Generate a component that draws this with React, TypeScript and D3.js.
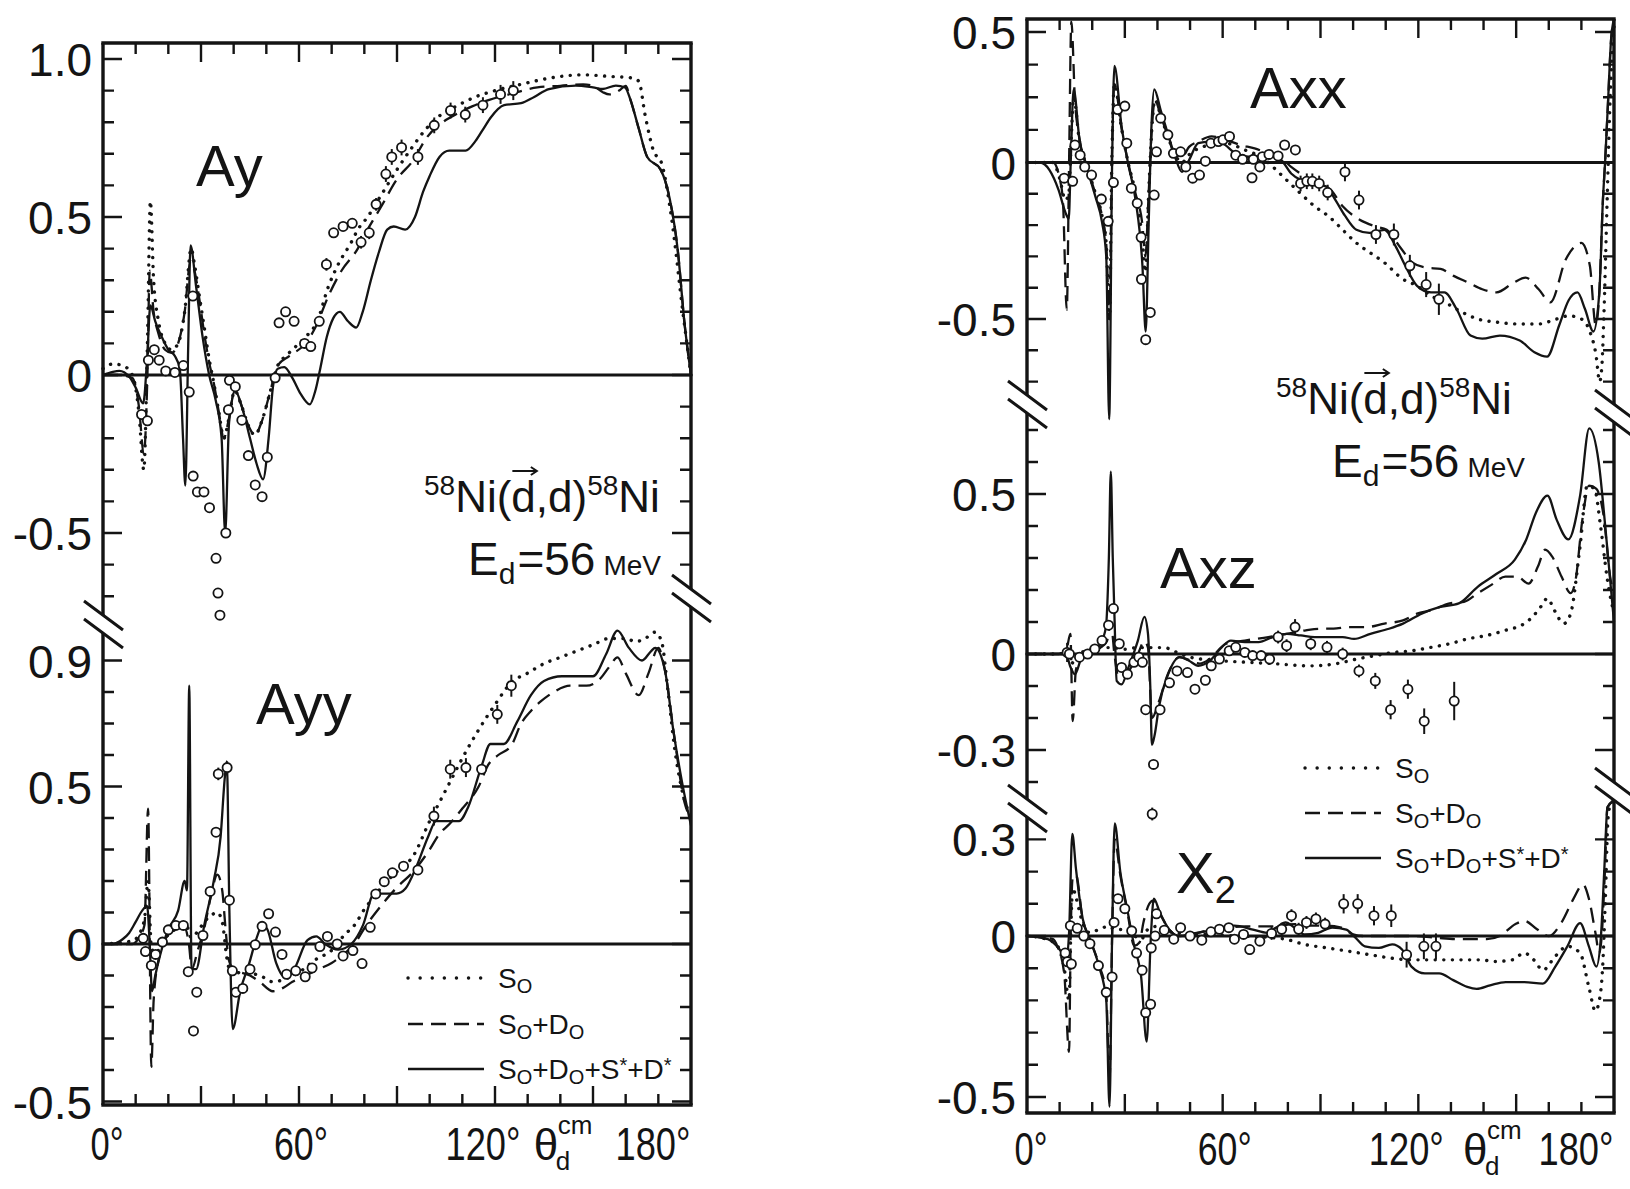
import React, { useLayoutEffect, useRef, useState } from 'react';
import * as d3 from 'd3';

type Pt = [number, number];
type Obs = [number, number, number];

// ---------------- Ay (left, upper) ----------------
const aySolid: Pt[] = [[0,0],[3,0.01],[5,0.013],[8,-0.005],[10,-0.04],[12.3,-0.09],[13.5,0.05],[14.5,0.22],[16,0.17],[18,0.12],[20,0.08],[22,0.06],[23.5,0.02],[24.5,-0.2],[25.2,-0.35],[26.1,0.1],[26.8,0.41],[28.5,0.28],[30.5,0.12],[32.5,0.0],[34.5,-0.08],[36.3,-0.2],[37.4,-0.5],[38.6,-0.15],[40.5,-0.05],[42.5,-0.1],[45,-0.2],[47,-0.28],[49,-0.33],[50.7,-0.2],[52,-0.04],[53.5,0.02],[55.5,0.025],[58,-0.01],[60.5,-0.06],[63.3,-0.093],[65,-0.05],[66.5,0.02],[68.5,0.12],[70.5,0.18],[72.5,0.2],[75,0.17],[77.5,0.15],[79.5,0.2],[82,0.3],[84.5,0.39],[87,0.46],[89,0.47],[92.5,0.46],[95.5,0.5],[98,0.58],[100,0.63],[103,0.69],[106,0.71],[111,0.71],[114,0.74],[116.5,0.78],[118.7,0.815],[122.8,0.854],[128,0.86],[132,0.88],[136.5,0.905],[144.7,0.916],[150,0.91],[153,0.905],[157,0.916],[159.8,0.91],[161.5,0.87],[164,0.78],[166.6,0.69],[170.7,0.65],[173.5,0.557],[176,0.39],[178,0.165],[180,0]];
const ayDashed: Pt[] = [[0,0],[5,0],[9,-0.01],[11,-0.1],[12.5,-0.25],[13.6,0.0],[14.3,0.33],[15.5,0.2],[17,0.13],[19,0.08],[21,0.07],[23,0.1],[25,0.2],[26.8,0.36],[28,0.33],[29.5,0.24],[31,0.13],[32.5,0.04],[34,-0.03],[35.5,-0.12],[37,-0.2],[38.5,-0.14],[40.3,-0.05],[42.5,-0.1],[44.5,-0.16],[46.5,-0.19],[48.5,-0.15],[51,-0.06],[53.5,0.03],[57,0.06],[62,0.1],[65,0.15],[69,0.25],[73,0.33],[78,0.4],[81,0.46],[85,0.53],[90,0.62],[95,0.68],[99,0.75],[104,0.8],[109,0.83],[113,0.85],[118,0.87],[125,0.89],[133,0.91],[140,0.915],[147,0.92],[150,0.915],[153,0.895],[155,0.888],[158,0.9],[160,0.915],[161.5,0.87],[164,0.78],[166.6,0.69],[170.7,0.65],[173.5,0.557],[176,0.39],[178,0.165],[180,0]];
const ayDotted: Pt[] = [[0,0.02],[3,0.035],[6,0.03],[9,0.0],[11,-0.12],[12.5,-0.3],[13.6,0.1],[14.5,0.55],[15.5,0.3],[17,0.17],[19,0.1],[21,0.08],[23,0.1],[25,0.2],[27,0.4],[28,0.35],[29.5,0.25],[31,0.15],[32.5,0.05],[34,-0.03],[35.5,-0.12],[37,-0.2],[38.5,-0.14],[40.3,-0.05],[42.5,-0.1],[44.5,-0.16],[46.5,-0.19],[48.5,-0.15],[51,-0.06],[53.5,0.03],[56,0.06],[59,0.09],[62,0.12],[65.6,0.17],[69,0.28],[72,0.35],[76,0.42],[78,0.46],[81,0.5],[84.6,0.56],[90,0.65],[94.6,0.72],[99,0.78],[103,0.82],[108,0.85],[114,0.88],[120,0.9],[128,0.92],[137,0.94],[147,0.95],[155,0.945],[162,0.94],[164,0.93],[166,0.82],[168.5,0.71],[171,0.67],[174,0.5],[177.5,0.2],[180,0]];
const ayPoints: Obs[] = [[11.8,-0.125,0],[13.6,-0.145,0],[13.9,0.047,0],[15.7,0.08,0],[17.2,0.047,0],[19.2,0.013,0],[22,0.008,0],[24.6,0.03,0],[26.4,-0.054,0],[27.5,0.25,0],[27.6,-0.32,0],[28.9,-0.37,0],[30.9,-0.37,0],[32.6,-0.42,0],[34.6,-0.58,0],[35.2,-0.69,0],[35.8,-0.76,0],[37.6,-0.5,0],[38.4,-0.11,0],[38.7,-0.017,0],[40.5,-0.037,0],[42.5,-0.143,0],[44.5,-0.255,0],[46.6,-0.348,0],[48.7,-0.385,0],[50.3,-0.26,0],[52.7,-0.009,0],[53.9,0.165,0],[55.9,0.2,0],[58.5,0.17,0],[61.7,0.1,0],[63.6,0.09,0],[66.2,0.17,0.015],[68.4,0.35,0.02],[70.6,0.45,0],[73.5,0.47,0],[76.3,0.48,0],[79,0.42,0.02],[81.5,0.45,0.02],[83.6,0.54,0.02],[86.6,0.636,0.025],[88.4,0.69,0.025],[91.4,0.72,0.025],[96.4,0.69,0.025],[101.4,0.79,0.025],[106.4,0.837,0.025],[110.9,0.824,0.025],[116.3,0.854,0.025],[121.7,0.888,0.03],[125.6,0.9,0.03]];

// ---------------- Ayy (left, lower) ----------------
const ayySolid: Pt[] = [[0,0],[3,0],[6,0.015],[8,0.035],[10,0.07],[12,0.106],[13.5,0.12],[14.3,0.0],[15,-0.15],[16,-0.1],[17.5,-0.035],[20,0.047],[23,0.106],[25,0.2],[25.7,0.17],[26.4,0.82],[27.1,-0.08],[28.5,-0.08],[31,0.06],[33.9,0.2],[36,0.34],[37.3,0.53],[37.9,0.58],[38.7,0.1],[39.7,-0.27],[42,-0.15],[44.8,-0.06],[46.8,0.012],[48.9,0.06],[50.3,0.047],[53,-0.06],[55.7,-0.106],[58.5,-0.08],[62.6,0.012],[65.3,0.024],[68,0],[72,-0.018],[76,0],[79.6,0.06],[83,0.16],[85.8,0.16],[89.9,0.16],[92.6,0.176],[96,0.247],[99.5,0.34],[102,0.39],[106.3,0.39],[109,0.39],[111.8,0.435],[115.9,0.565],[118.6,0.635],[122.7,0.635],[126.8,0.706],[131,0.79],[135,0.835],[140.5,0.85],[150,0.85],[154,0.92],[157.5,0.995],[161,0.94],[165,0.9],[167.8,0.93],[169,0.94],[172,0.87],[174.7,0.67],[177.4,0.506],[180,0.376]];
const ayyDashed: Pt[] = [[0,0],[9,0],[11,0.02],[12.7,0.06],[13.8,0.43],[14.8,-0.39],[15.5,-0.18],[17,-0.05],[20,0.03],[23,0.05],[25,0.05],[26.3,0.0],[27.2,-0.08],[29,-0.02],[31,0.05],[33,0.15],[35,0.22],[36.5,0.17],[37.5,0.05],[38.5,-0.05],[40,-0.08],[45,-0.1],[48,-0.12],[52,-0.15],[55,-0.14],[58,-0.12],[62,-0.1],[66,-0.08],[70,-0.06],[74,-0.03],[77,0],[80,0.05],[85,0.12],[90,0.18],[95,0.23],[100,0.3],[103,0.35],[106,0.38],[110,0.43],[115,0.5],[118,0.57],[121,0.6],[125,0.63],[128,0.7],[131,0.74],[134,0.77],[138,0.8],[143,0.82],[148,0.82],[152,0.84],[155,0.88],[157.5,0.91],[160,0.86],[164,0.79],[167,0.86],[170,0.94],[172,0.87],[175,0.65],[178,0.45],[180,0.4]];
const ayyDotted: Pt[] = [[0,0],[9,0.01],[11,0.03],[12.7,0.08],[13.8,0.2],[14.8,-0.01],[16,-0.03],[18,0],[20,0.03],[23,0.05],[25.5,0.06],[27,0.02],[29,0.04],[31,0.07],[33,0.09],[35,0.1],[36.5,0.07],[38,-0.05],[39.5,-0.1],[42,-0.09],[48,-0.1],[52,-0.12],[56,-0.11],[60,-0.09],[65,-0.05],[70,-0.02],[74,0.03],[77,0.06],[80,0.11],[83,0.15],[86,0.19],[90,0.23],[95,0.28],[100,0.39],[103,0.45],[107,0.53],[110,0.59],[115,0.68],[120,0.76],[125,0.83],[130,0.86],[135,0.89],[140,0.91],[145,0.93],[150,0.95],[155,0.97],[160,0.97],[163,0.96],[166,0.97],[169,0.99],[171,0.96],[173,0.8],[175,0.62],[177,0.5],[180,0.4]];
const ayyPoints: Obs[] = [[12.3,0.018,0],[13,-0.024,0],[14.8,-0.068,0],[16.1,-0.033,0],[18.2,0.006,0],[20,0.045,0],[22.3,0.059,0],[24.6,0.059,0],[26.1,-0.088,0],[27.7,-0.276,0],[28.7,-0.153,0],[30.6,0.027,0],[32.8,0.167,0],[34.6,0.355,0],[35.3,0.54,0.02],[38,0.56,0.02],[38.7,0.139,0],[39.6,-0.085,0],[40.7,-0.153,0],[42.8,-0.141,0],[45,-0.08,0],[46.6,-0.002,0],[48.7,0.056,0],[50.7,0.096,0],[52.8,0.038,0],[54.8,-0.033,0],[56.2,-0.096,0],[59,-0.085,0],[61.9,-0.104,0],[64,-0.076,0],[66.4,-0.008,0],[68.7,0.024,0],[71.7,0,0],[73.5,-0.038,0],[76.5,-0.021,0],[79.3,-0.062,0],[81.8,0.053,0],[83.5,0.159,0],[86.1,0.198,0],[88.6,0.226,0],[92,0.247,0],[96.4,0.235,0],[101.3,0.406,0.03],[106.3,0.555,0.03],[111.1,0.56,0.03],[115.9,0.555,0],[120.7,0.729,0.03],[125,0.82,0.035]];

// ---------------- Axx (right, top) ----------------
const axxSolid: Pt[] = [[0,0],[4,0],[6.9,-0.024],[9.7,-0.088],[11.8,-0.16],[12.8,-0.18],[13.4,0.0],[14.3,0.28],[16.1,0.087],[18.3,-0.014],[21,-0.11],[23,-0.19],[24.3,-0.3],[25.2,-0.82],[26.1,0.0],[26.8,0.37],[29,0.138],[31,-0.003],[33.3,-0.12],[35.4,-0.33],[36.4,-0.54],[37.3,-0.2],[38.2,0.15],[39,0.28],[41,0.2],[43.2,0.11],[45.4,0.022],[47.5,-0.03],[49.7,0.009],[52.5,0.074],[56,0.08],[59.7,0.074],[64,0.035],[68,0.022],[72.5,0.022],[75.4,0.028],[78,0.009],[81,-0.035],[84,-0.056],[88,-0.067],[91.8,-0.077],[94.6,-0.12],[97.5,-0.17],[101,-0.215],[105,-0.225],[109.6,-0.215],[113,-0.267],[116,-0.33],[119.6,-0.394],[123.9,-0.415],[128,-0.415],[131.7,-0.468],[136,-0.553],[139.6,-0.563],[145,-0.553],[151.1,-0.569],[155.6,-0.606],[159.5,-0.62],[163.2,-0.52],[166.1,-0.44],[168.8,-0.415],[171.1,-0.468],[173.7,-0.54],[175.5,-0.415],[176.6,-0.12],[177.3,0.009],[178.2,0.24],[179.1,0.47],[180,0.55]];
const axxDashed: Pt[] = [[0,0],[8,0],[10,-0.05],[11,-0.12],[12.2,-0.47],[12.9,0.0],[13.6,0.54],[14.7,0.24],[16.1,0.09],[18.3,-0.01],[21,-0.1],[23,-0.17],[24.3,-0.26],[25.3,-0.5],[26,0.0],[26.8,0.3],[29,0.13],[31,0.0],[33.3,-0.1],[35.4,-0.2],[36.3,-0.3],[37.3,-0.1],[38.4,0.15],[39.2,0.24],[41,0.18],[43.2,0.1],[45.4,0.03],[47.5,0.02],[49.7,0.06],[52.5,0.08],[56.6,0.1],[61,0.087],[65.4,0.067],[69.8,0.054],[74,0.035],[77.5,0.022],[81,-0.014],[85.4,-0.045],[89.6,-0.067],[93.2,-0.088],[96.8,-0.14],[100.4,-0.172],[104,-0.193],[106.8,-0.204],[110.3,-0.215],[114.6,-0.273],[118.2,-0.32],[122.5,-0.336],[126.8,-0.34],[131,-0.363],[135.4,-0.384],[139.6,-0.405],[144,-0.415],[149.2,-0.384],[152.9,-0.368],[156.9,-0.405],[160.5,-0.447],[165.2,-0.31],[170,-0.257],[172.6,-0.33],[174.4,-0.52],[175.5,-0.415],[176.6,-0.12],[177.3,0.009],[178.2,0.24],[179.1,0.47],[180,0.55]];
const axxDotted: Pt[] = [[0,0],[8,0],[10,-0.05],[11.8,-0.12],[12.8,-0.1],[13.6,0.1],[14.3,0.25],[16.1,0.08],[18.3,-0.01],[21,-0.1],[23,-0.17],[24.3,-0.26],[25.3,-0.5],[26,0.0],[26.8,0.3],[29,0.13],[31,0.0],[33.3,-0.1],[35.4,-0.25],[36.3,-0.35],[37.3,-0.1],[38.4,0.15],[39.2,0.24],[41,0.18],[43.2,0.1],[45.4,0.03],[47.5,0.0],[49.7,0.03],[53.9,0.06],[60.8,0.074],[66.8,0.048],[72.5,0.015],[75.4,-0.014],[79.6,-0.056],[84,-0.1],[88.2,-0.14],[92.5,-0.172],[96.8,-0.215],[101,-0.257],[105.3,-0.289],[109.6,-0.32],[115.3,-0.373],[119.6,-0.394],[123.9,-0.426],[128.2,-0.447],[132.5,-0.473],[138.2,-0.5],[143.9,-0.51],[151.1,-0.516],[156.9,-0.516],[162.4,-0.5],[166.1,-0.49],[170,-0.5],[172.6,-0.54],[174.5,-0.616],[175.6,-0.7],[176.3,-0.648],[176.9,-0.49],[177.9,-0.12],[178.8,0.24],[180,0.52]];
const axxPoints: Obs[] = [[11.4,-0.05,0],[14,-0.06,0],[14.7,0.067,0],[16.3,0.028,0],[17.7,-0.014,0],[19.8,-0.04,0],[22.8,-0.117,0],[24.9,-0.188,0],[26.5,-0.064,0],[27.8,0.203,0],[30,0.216,0],[30.6,0.074,0],[32,-0.082,0],[33.8,-0.13,0],[35,-0.239,0],[35.1,-0.373,0],[36.4,-0.566,0],[37.8,-0.479,0],[39,-0.104,0],[39.7,0.041,0],[41,0.17,0],[43.2,0.106,0],[44.9,0.035,0],[47.1,0.041,0],[48.7,-0.014,0],[50.8,-0.05,0],[52.9,-0.04,0],[54.7,0.005,0],[56.4,0.074,0],[58.7,0.08,0],[60.1,0.087,0],[62.1,0.1,0],[64,0.028,0],[66.1,0.012,0],[69,-0.049,0],[69.4,0.012,0],[71.4,-0.014,0],[72.2,0.022,0],[74.2,0.031,0],[77,0.025,0],[79,0.067,0],[82.3,0.048,0],[83.9,-0.067,0.025],[85.8,-0.06,0.025],[87.5,-0.06,0.025],[89.6,-0.067,0.025],[92.2,-0.096,0.025],[97.5,-0.03,0.03],[101.8,-0.12,0.03],[107,-0.23,0.03],[112.5,-0.23,0.035],[117.4,-0.33,0.035],[122.4,-0.39,0.04],[126.3,-0.437,0.05]];

// ---------------- Axz (right, middle) ----------------
const axzSolid: Pt[] = [[0,0],[9.7,0],[11.8,0.005],[13.3,-0.04],[14.7,-0.063],[16.8,-0.01],[19.7,0.01],[22.5,0.032],[24.2,0.084],[25.1,0.3],[25.7,0.57],[26.3,0.3],[26.8,0.126],[27.5,-0.084],[29,-0.095],[31.1,-0.042],[34,0.042],[36,0.116],[37.1,0.063],[37.8,-0.1],[38.3,-0.284],[39.2,-0.25],[40.4,-0.168],[43.3,-0.063],[46.8,-0.01],[49.7,-0.021],[52.5,-0.037],[56.1,-0.021],[59.7,0.021],[62.5,0.042],[66.8,0.037],[71,0.037],[75.4,0.053],[79.6,0.063],[84,0.058],[88.2,0.053],[93.2,0.053],[96.8,0.053],[100.3,0.047],[105.3,0.063],[111,0.079],[115.3,0.095],[121,0.126],[126.7,0.147],[132.4,0.158],[138.2,0.21],[143.9,0.25],[149.6,0.295],[153.1,0.358],[156,0.44],[159.6,0.495],[162.4,0.42],[166,0.358],[169.6,0.495],[172.4,0.705],[175.3,0.6],[177.4,0.39],[180,0.1]];
const axzDashed: Pt[] = [[0,0],[10,0],[12,0.01],[13.3,0.063],[14,-0.21],[15,-0.05],[17,0.0],[20,0.01],[22.5,0.02],[24.5,0.04],[25.7,0.1],[26.8,0.0],[28,-0.07],[30,-0.07],[32,-0.04],[34,0.0],[36,0.04],[37.1,0.02],[38.3,-0.2],[40.4,-0.15],[43.3,-0.06],[46.8,-0.01],[50,-0.02],[53,-0.03],[56.1,-0.015],[61,0.032],[66.8,0.042],[74,0.053],[79.6,0.063],[85.5,0.074],[90,0.079],[94,0.079],[98.4,0.084],[104,0.084],[109.6,0.095],[115.3,0.105],[119.6,0.126],[124,0.137],[129.6,0.158],[134,0.163],[138.2,0.19],[142.4,0.216],[146.7,0.242],[150.3,0.242],[153.8,0.22],[156.7,0.274],[158.9,0.326],[161,0.305],[163.9,0.242],[166.7,0.19],[168.2,0.23],[170.3,0.42],[172.4,0.526],[174.6,0.516],[176.7,0.44],[179,0.23],[180,0.19]];
const axzDotted: Pt[] = [[0,0],[10,0],[12,0.005],[13.3,-0.02],[14.5,-0.03],[16,0],[18,0.01],[22,0.02],[26,0.02],[30,0.015],[34,0.02],[38,0.02],[42,0.02],[46,0.005],[50,-0.01],[58,-0.02],[66,-0.025],[75.4,-0.03],[86.8,-0.037],[95,-0.03],[101,-0.016],[106.8,-0.005],[112.5,0.005],[118,0.01],[124,0.021],[129.6,0.032],[135,0.047],[141,0.058],[146.7,0.074],[152.5,0.095],[155,0.116],[157.5,0.147],[159.6,0.174],[161.7,0.137],[164.6,0.095],[166.7,0.126],[169.6,0.337],[171.8,0.526],[174,0.516],[176,0.39],[178,0.23],[180,0.126]];
const axzPoints: Obs[] = [[12.3,0.005,0.03],[13,0.0,0],[16.1,-0.01,0],[18.6,0,0],[20.8,0.016,0],[23,0.042,0],[25,0.09,0],[26.5,0.142,0],[28.3,0.032,0],[29,-0.042,0],[30.8,-0.063,0],[32.8,-0.026,0],[34.3,-0.01,0],[35.4,-0.026,0],[36.4,-0.174,0],[38.4,-0.5,0.02],[38.8,-0.345,0],[40.8,-0.174,0],[43.7,-0.09,0],[46,-0.053,0],[49.2,-0.058,0],[51.5,-0.11,0],[54.7,-0.082,0],[56.5,-0.037,0],[59,-0.016,0],[62,0.01,0],[64,0.021,0],[66.8,0.005,0],[69.2,-0.005,0],[71.8,-0.005,0],[74.4,-0.016,0],[77,0.053,0.02],[79.6,0.026,0.02],[82.2,0.084,0.025],[87,0.032,0.02],[92,0.021,0.02],[96.8,0,0.02],[101.8,-0.053,0.02],[106.8,-0.084,0.025],[111.5,-0.174,0.03],[116.8,-0.11,0.03],[121.8,-0.21,0.04],[131,-0.147,0.06]];

// ---------------- X2 (right, bottom) ----------------
const x2Solid: Pt[] = [[0,0],[6.4,-0.01],[10,-0.042],[12.1,-0.074],[12.9,0.01],[13.9,0.317],[15,0.21],[17.1,0.053],[19.3,-0.01],[22.1,-0.095],[24.3,-0.2],[25.3,-0.53],[26.1,0.0],[26.9,0.35],[28.6,0.2],[30.7,0.085],[32.9,-0.032],[35,-0.127],[36.7,-0.328],[37.9,-0.02],[38.9,0.116],[40.7,0.074],[43.6,0.02],[46.4,0],[52,0.01],[57.9,0.02],[63.6,0.032],[69.3,0.02],[73.6,0.01],[76.4,0.026],[79.3,0.042],[82,0.026],[85,0.005],[89.3,0.01],[93.6,0.026],[97.9,0.02],[100.7,-0.005],[103.6,-0.032],[107.9,-0.037],[112,-0.026],[115,-0.042],[117.9,-0.095],[122,-0.116],[126.4,-0.116],[130.7,-0.137],[135,-0.158],[137.9,-0.164],[142,-0.153],[146.8,-0.143],[152.5,-0.143],[158.2,-0.148],[162,-0.095],[165.7,-0.032],[169.6,0.04],[172.3,-0.032],[174.6,-0.095],[176,0.0],[177,0.2],[178,0.4],[180,0.42]];
const x2Dashed: Pt[] = [[0,0],[8,-0.01],[9.3,-0.032],[11.4,-0.116],[12.9,-0.36],[13.4,0.0],[14,0.18],[15,0.19],[17.1,0.05],[19.3,-0.01],[22.1,-0.09],[24.3,-0.18],[25.3,-0.45],[26.1,0.0],[26.9,0.3],[28.6,0.19],[30.7,0.08],[32.9,-0.03],[34.5,-0.02],[35.7,0.042],[37.5,0.1],[38.6,0.11],[40.7,0.07],[43.6,0.02],[46.4,0],[57,0.02],[67,0.03],[75,0.03],[82,0.037],[86,0.032],[92,0.032],[96.4,0.026],[100,0.005],[103,0],[118,0],[125,-0.005],[132.9,-0.01],[141,-0.01],[145,0.0],[149.8,0.037],[152.5,0.047],[156.4,0.021],[160.1,0],[163.9,0.042],[167.6,0.116],[170.5,0.16],[172.3,0.116],[174.3,0.01],[175.5,-0.053],[176.3,0.01],[177.2,0.2],[178,0.4],[180,0.42]];
const x2Dotted: Pt[] = [[0,0],[6,-0.01],[9.3,-0.03],[11.4,-0.1],[12.9,-0.2],[13.4,0.0],[14,0.15],[15,0.12],[17.1,0.04],[19.3,0.01],[22,0.02],[25,0.03],[27,0.02],[30,0.02],[33,0.0],[35,-0.01],[37,0.02],[40,0.03],[45,0.01],[55,0.005],[65,0.0],[75,-0.005],[79.3,-0.01],[85,-0.026],[92,-0.037],[99,-0.048],[105,-0.058],[112,-0.069],[117.9,-0.074],[125,-0.074],[132,-0.074],[139,-0.074],[143.6,-0.079],[148.8,-0.074],[152.5,-0.053],[155.4,-0.074],[158.2,-0.106],[162,-0.063],[165.7,-0.032],[169.6,-0.053],[172.3,-0.159],[174.3,-0.233],[175.5,-0.2],[176.5,-0.1],[177.3,0.1],[178.2,0.37],[179,0.41],[180,0.42]];
const x2Points: Obs[] = [[11.7,-0.053,0],[12.4,-0.08,0],[13.3,0.032,0],[13.6,-0.087,0],[15.4,0.024,0],[17.4,0,0],[19.3,-0.024,0],[21.9,-0.092,0],[24.3,-0.175,0],[26.1,-0.127,0],[26.7,0.042,0],[27.9,0.116,0],[30,0.085,0],[32.1,0.016,0],[33.6,-0.053,0],[35.3,-0.106,0],[36.4,-0.238,0],[37.9,-0.212,0],[38.1,-0.037,0],[39.3,0,0],[39.7,0.069,0],[42.1,0.018,0],[45,-0.01,0],[47.1,0.026,0],[50,0,0],[53.6,-0.013,0],[56.4,0.013,0],[59,0.021,0],[61.9,0.026,0],[63.6,-0.01,0],[66.4,0.005,0],[68.3,-0.042,0.015],[71.4,-0.016,0.015],[75,0.008,0.02],[78.1,0.021,0.02],[81.1,0.063,0.02],[83.3,0.021,0.02],[85.7,0.042,0.02],[88.6,0.053,0.02],[91.4,0.037,0.02],[97.1,0.1,0.03],[101.4,0.1,0.03],[106.4,0.063,0.03],[111.7,0.063,0.035],[116.4,-0.058,0.04],[121.7,-0.032,0.04],[125.4,-0.032,0.04]];

// ---------------- axis labels ----------------
const xTickLabels = ['0°', '60°', '120°', '180°'];
const xTickValues = [0, 60, 120, 180];
const ayLabels: [number, string][] = [[1, '1.0'], [0.5, '0.5'], [0, '0'], [-0.5, '-0.5']];
const ayyLabels: [number, string][] = [[0.9, '0.9'], [0.5, '0.5'], [0, '0'], [-0.5, '-0.5']];
const axxLabels: [number, string][] = [[0.5, '0.5'], [0, '0'], [-0.5, '-0.5']];
const axzLabels: [number, string][] = [[0.5, '0.5'], [0, '0'], [-0.3, '-0.3']];
const x2Labels: [number, string][] = [[0.3, '0.3'], [0, '0'], [-0.5, '-0.5']];

const INK = '#141414';
const FONT = "'Liberation Sans Narrow', 'Liberation Sans', Arial, sans-serif";

// panel frames
const leftBox = { x0: 103, x1: 691, top: 43, bottom: 1105 };
const rightBox = { x0: 1027, x1: 1614, top: 19, bottom: 1113 };

const xL = d3.scaleLinear().domain([0, 180]).range([leftBox.x0, leftBox.x1]);
const xR = d3.scaleLinear().domain([0, 180]).range([rightBox.x0, rightBox.x1]);

const yAy = d3.scaleLinear().domain([0, 1]).range([375, 59]);
const yAyy = d3.scaleLinear().domain([0, 0.5]).range([944, 786.5]);
const yAxx = d3.scaleLinear().domain([-0.5, 0, 0.5]).range([319, 162.5, 32]);
const yAxz = d3.scaleLinear().domain([0, 0.5]).range([654, 494]);
const yX2 = d3.scaleLinear().domain([0, 0.3]).range([936, 839.4]);

type YScale = d3.ScaleLinear<number, number>;
interface Section {
  y: YScale;
  span: [number, number];
  ticks: number[];
  labels: [number, string][];
}

const tenths = (a: number, b: number) => d3.range(a, b + 1).map((i) => i / 10);

const leftSections: Section[] = [
  { y: yAy, span: [48, 612], ticks: tenths(-7, 10), labels: ayLabels },
  { y: yAyy, span: [640, 1102], ticks: tenths(-5, 10), labels: ayyLabels },
];
const rightSections: Section[] = [
  { y: yAxx, span: [24, 398], ticks: [0.125, 0.25, 0.375, 0.5, ...tenths(-7, 0)], labels: axxLabels },
  { y: yAxz, span: [422, 800], ticks: tenths(-4, 7), labels: axzLabels },
  { y: yX2, span: [814, 1110], ticks: tenths(-5, 4), labels: x2Labels },
];

// break marks (pixel centres on each side)
const leftBreaks = { l: [624], r: [598] };
const rightBreaks = { l: [404, 808], r: [413, 791] };

function Frame({ box, x, sections, breaks }: { box: typeof leftBox; x: YScale; sections: Section[]; breaks: { l: number[]; r: number[] } }) {
  const gap = 9;
  const side = (ax: number, cuts: number[]) => {
    const ys = [box.top, ...cuts.flatMap((c) => [c - gap, c + gap]), box.bottom];
    let d = '';
    for (let i = 0; i < ys.length; i += 2) d += `M${ax},${ys[i]}V${ys[i + 1]}`;
    return d;
  };
  const marks = (ax: number, cuts: number[]) =>
    cuts.flatMap((c) => [-gap, gap].map((o) => `M${ax - 19},${c + o - 14}L${ax + 20},${c + o + 15}`)).join('');
  const near = (p: number, cuts: number[]) => cuts.some((c) => Math.abs(p - c) < 13);

  const xt = d3.range(10, 180, 10);
  let ticks = '';
  xt.forEach((t) => {
    const len = t % 30 === 0 ? 19 : 11;
    const px = x(t);
    ticks += `M${px},${box.bottom}v${-len}M${px},${box.top}v${len}`;
  });
  sections.forEach((s) => {
    const major = s.labels.map((l) => l[0]);
    s.ticks.forEach((t) => {
      const py = s.y(t);
      if (py < s.span[0] || py > s.span[1]) return;
      const len = major.some((m) => Math.abs(m - t) < 1e-6) ? 19 : 11;
      if (!near(py, breaks.l)) ticks += `M${box.x0},${py}h${len}`;
      if (!near(py, breaks.r)) ticks += `M${box.x1},${py}h${-len}`;
    });
  });

  return (
    <g stroke={INK} fill="none">
      <path d={side(box.x0, breaks.l) + side(box.x1, breaks.r)} strokeWidth={3.4} />
      <path d={`M${box.x0 - 1.7},${box.top}H${box.x1 + 1.7}M${box.x0 - 1.7},${box.bottom}H${box.x1 + 1.7}`} strokeWidth={3.4} />
      <path d={ticks} strokeWidth={2.4} />
      <path d={marks(box.x0, breaks.l) + marks(box.x1, breaks.r)} strokeWidth={3} />
      {sections.map((s, i) => (
        <path key={i} d={`M${box.x0},${s.y(0)}H${box.x1}`} strokeWidth={2.8} />
      ))}
      <g fill={INK} stroke="none" fontFamily={FONT} fontSize={46} textAnchor="end" dominantBaseline="central">
        {sections.flatMap((s, i) =>
          s.labels.map(([v, t]) => (
            <text key={i + t + v} x={box.x0 - 11} y={s.y(v) + 1}>{t}</text>
          )),
        )}
      </g>
    </g>
  );
}

function Curves({ x, y, dotted, dashed, solid, points }: { x: YScale; y: YScale; dotted: Pt[]; dashed: Pt[]; solid: Pt[]; points: Obs[] }) {
  const line = d3.line<Pt>().x((d) => x(d[0])).y((d) => y(d[1])).curve(d3.curveMonotoneX);
  return (
    <g fill="none" stroke={INK}>
      <path d={line(dotted) || ''} strokeWidth={3.4} strokeDasharray="0.1 8.5" strokeLinecap="round" />
      <path d={line(dashed) || ''} strokeWidth={2.3} strokeDasharray="15 8" />
      <path d={line(solid) || ''} strokeWidth={2.3} />
      {points.map(([t, v, e], i) => (
        <g key={i}>
          {e > 0 && <line x1={x(t)} x2={x(t)} y1={y(v - e)} y2={y(v + e)} strokeWidth={2} />}
          <circle cx={x(t)} cy={y(v)} r={4.6} fill="#fff" strokeWidth={1.8} />
        </g>
      ))}
    </g>
  );
}

function XLabels({ x, base, theta }: { x: YScale; base: number; theta: number }) {
  const shift = [4, 2, -12, -38];
  return (
    <g fill={INK} fontFamily={FONT}>
      {xTickValues.map((v, i) => {
        const s = xTickLabels[i];
        return (
          <text key={v} x={x(v) + shift[i]} y={base} fontSize={46} textAnchor="middle"
            textLength={(s.length - 1) * 21 + 12} lengthAdjust="spacingAndGlyphs">{s}</text>
        );
      })}
      <text x={theta} y={base} fontSize={44}>
        θ
        <tspan x={theta + 24} y={base - 26} fontSize={26}>cm</tspan>
        <tspan x={theta + 22} y={base + 10} fontSize={26}>d</tspan>
      </text>
    </g>
  );
}

function Reaction({ x, y }: { x: number; y: number }) {
  const ref = useRef<SVGTextElement>(null);
  const [arrow, setArrow] = useState<[number, number] | null>(null);
  useLayoutEffect(() => {
    const el = ref.current;
    if (!el) return;
    try {
      const a = el.getStartPositionOfChar(5).x;
      const b = el.getEndPositionOfChar(5).x;
      setArrow([a, b]);
    } catch (err) {
      setArrow(null);
    }
  }, [x, y]);
  return (
    <g fill={INK} fontFamily={FONT}>
      <text ref={ref} x={x} y={y} fontSize={44}>
        <tspan fontSize={28} dy={-17}>58</tspan>
        <tspan dy={17}>Ni(d,d)</tspan>
        <tspan fontSize={28} dy={-17}>58</tspan>
        <tspan dy={17}>Ni</tspan>
      </text>
      {arrow && (
        <g stroke={INK} strokeWidth={2} fill="none">
          <path d={`M${arrow[0] + 1},${y - 41}H${arrow[1] + 1}`} />
          <path d={`M${arrow[1] - 5},${y - 45}L${arrow[1] + 1},${y - 41}L${arrow[1] - 5},${y - 37}`} />
        </g>
      )}
    </g>
  );
}

function Energy({ x, y }: { x: number; y: number }) {
  return (
    <text x={x} y={y} fill={INK} fontFamily={FONT} fontSize={46}>
      E<tspan fontSize={30} dy={9}>d</tspan>
      <tspan dy={-9} dx={2}>=56</tspan>
      <tspan fontSize={28} dx={8}>MeV</tspan>
    </text>
  );
}

function Legend({ x, rows }: { x: number; rows: number[] }) {
  const tx = x + 90;
  const sub = (s: string) => (
    <tspan fontSize={20} dy={5}>{s}</tspan>
  );
  const up = (s: string) => <tspan dy={-5}>{s}</tspan>;
  return (
    <g fill={INK} fontFamily={FONT}>
      <path d={`M${x},${rows[0]}H${x + 76}`} stroke={INK} strokeWidth={3.4} strokeDasharray="0.1 12" strokeLinecap="round" />
      <path d={`M${x},${rows[1]}H${x + 76}`} stroke={INK} strokeWidth={2.3} strokeDasharray="15 8" />
      <path d={`M${x},${rows[2]}H${x + 76}`} stroke={INK} strokeWidth={2.3} />
      <text fontSize={28}>
        <tspan x={tx} y={rows[0] + 10}>S</tspan>{sub('O')}
        <tspan x={tx} y={rows[1] + 10}>S</tspan>{sub('O')}{up('+D')}{sub('O')}
        <tspan x={tx} y={rows[2] + 10}>S</tspan>{sub('O')}{up('+D')}{sub('O')}{up('+S')}
        <tspan fontSize={20} dy={-7}>*</tspan>
        <tspan dy={7}>+D</tspan>
        <tspan fontSize={20} dy={-7}>*</tspan>
      </text>
    </g>
  );
}

export default function App() {
  return (
    <div style={{ position: 'absolute', left: 0, top: 0, background: '#fff' }}>
      <svg width={1630} height={1189} viewBox="0 0 1630 1189" style={{ display: 'block' }}>
        <rect width={1630} height={1189} fill="#fff" />

        {/* left panel */}
        <Frame box={leftBox} x={xL} sections={leftSections} breaks={leftBreaks} />
        <Curves x={xL} y={yAy} dotted={ayDotted} dashed={ayDashed} solid={aySolid} points={ayPoints} />
        <Curves x={xL} y={yAyy} dotted={ayyDotted} dashed={ayyDashed} solid={ayySolid} points={ayyPoints} />
        <XLabels x={xL} base={1160} theta={xL(130) + 6} />
        <g fill={INK} fontFamily={FONT} fontSize={58}>
          <text x={196} y={186}>Ay</text>
          <text x={256} y={724}>Ayy</text>
        </g>
        <Reaction x={424} y={512} />
        <Energy x={468} y={575} />
        <Legend x={408} rows={[978, 1024, 1069]} />

        {/* right panel */}
        <Frame box={rightBox} x={xR} sections={rightSections} breaks={rightBreaks} />
        <Curves x={xR} y={yAxx} dotted={axxDotted} dashed={axxDashed} solid={axxSolid} points={axxPoints} />
        <Curves x={xR} y={yAxz} dotted={axzDotted} dashed={axzDashed} solid={axzSolid} points={axzPoints} />
        <Curves x={xR} y={yX2} dotted={x2Dotted} dashed={x2Dashed} solid={x2Solid} points={x2Points} />
        <XLabels x={xR} base={1165} theta={xR(130) + 12} />
        <g fill={INK} fontFamily={FONT} fontSize={58}>
          <text x={1250} y={108}>Axx</text>
          <text x={1160} y={588}>Axz</text>
          <text x={1176} y={893}>
            X<tspan fontSize={38} dy={10}>2</tspan>
          </text>
        </g>
        <Reaction x={1276} y={414} />
        <Energy x={1332} y={477} />
        <Legend x={1305} rows={[768, 813, 858]} />
      </svg>
    </div>
  );
}
